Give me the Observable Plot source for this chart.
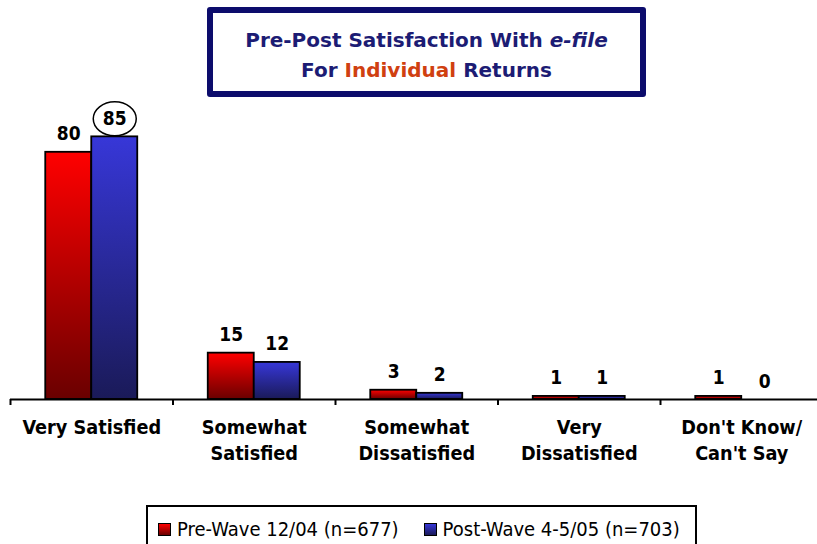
<!DOCTYPE html>
<html>
<head>
<meta charset="utf-8">
<script src="https://cdn.jsdelivr.net/npm/d3@7"></script>
<script src="https://cdn.jsdelivr.net/npm/@observablehq/plot@0.6"></script>
<style>
  html, body { margin: 0; padding: 0; background: #fff; }
  #wrap { position: relative; width: 817px; height: 544px; overflow: hidden; background: #fff;
    font-family: 'DejaVu Sans Condensed', 'DejaVu Sans', sans-serif; }
  #chart { position: absolute; left: 0; top: 0; }
  #title { position: absolute; left: 207px; top: 7px; width: 439px; height: 90px; box-sizing: border-box;
    border: 6px solid #0c0c6c; border-radius: 3px; text-align: center; font-weight: bold; font-size: 20px;
    font-family: 'DejaVu Sans', sans-serif;
    line-height: 30px; color: #1c1c74; padding-top: 12px; }
  #title .hl { color: #d04010; }
  #legend { position: absolute; left: 146px; top: 505px; width: 551px; height: 50px; box-sizing: border-box;
    border: 2px solid #000; font-size: 20px; line-height: 22px; padding-top: 11px; padding-left: 10px;
    display: flex; gap: 25px; color: #000; }
  #legend .sw { display: inline-block; width: 11px; height: 11px; border: 1px solid #000; margin-right: 6px; }
</style>
</head>
<body>
<div id="wrap">
  <div id="chart"></div>
  <div id="title">Pre-Post Satisfaction With <i>e-file</i><br>For <span class="hl">Individual</span> Returns</div>
  <div id="legend"></div>
</div>
<script>
const categories = ["Very Satisfied", "Somewhat Satisfied", "Somewhat Dissatisfied", "Very Dissatisfied", "Don't Know/ Can't Say"];
const tickLabels = ["Very Satisfied", "Somewhat\nSatisfied", "Somewhat\nDissatisfied", "Very\nDissatisfied", "Don't Know/\nCan't Say"];
const seriesNames = ["Pre-Wave 12/04 (n=677)", "Post-Wave 4-5/05 (n=703)"];
const preWave = [80, 15, 3, 1, 1];
const postWave = [85, 12, 2, 1, 0];

const gradients = {
  [seriesNames[0]]: {id: "gRed", top: "#ff0000", bottom: "#6a0000"},
  [seriesNames[1]]: {id: "gBlue", top: "#3737d8", bottom: "#1a1a58"}
};

const preRows = categories.map((c, i) => ({category: c, series: seriesNames[0], value: preWave[i]}));
const postRows = categories.map((c, i) => ({category: c, series: seriesNames[1], value: postWave[i]}));
const maxPost = d3.max(postRows, d => d.value);

const ellipse = {
  draw(ctx) {
    const rx = 21.5, ry = 17, k = 0.5523;
    ctx.moveTo(rx, 0);
    ctx.bezierCurveTo(rx, ry * k, rx * k, ry, 0, ry);
    ctx.bezierCurveTo(-rx * k, ry, -rx, ry * k, -rx, 0);
    ctx.bezierCurveTo(-rx, -ry * k, -rx * k, -ry, 0, -ry);
    ctx.bezierCurveTo(rx * k, -ry, rx, -ry * k, rx, 0);
    ctx.closePath();
  }
};

const defsMark = () => {
  const g = document.createElementNS("http://www.w3.org/2000/svg", "g");
  g.innerHTML = "<defs>" + Object.values(gradients).map(gr =>
    `<linearGradient id="${gr.id}" x1="0" y1="0" x2="0" y2="1"><stop offset="0" stop-color="${gr.top}"/><stop offset="1" stop-color="${gr.bottom}"/></linearGradient>`
  ).join("") + "</defs>";
  return g;
};

const labelFont = {fontWeight: "bold", fontSize: 19};

const chart = Plot.plot({
  width: 817,
  height: 500,
  marginTop: 90,
  marginBottom: 101,
  marginLeft: 10,
  marginRight: 0,
  style: {fontFamily: "'DejaVu Sans Condensed', 'DejaVu Sans', sans-serif", fontSize: "19px", color: "#000", background: "transparent", overflow: "visible"},
  x: {domain: categories, range: [10, 822.5], padding: 0, round: false, label: null},
  y: {domain: [0, 100], axis: null},
  marks: [
    defsMark,
    Plot.barY(preRows, {x: "category", y: "value", fill: "url(#gRed)", stroke: "#000", strokeWidth: 1.8, insetLeft: 35.25, insetRight: 81.25}),
    Plot.barY(postRows, {x: "category", y: "value", fill: "url(#gBlue)", stroke: "#000", strokeWidth: 1.8, insetLeft: 81.25, insetRight: 35.25}),
    Plot.ruleY([0], {stroke: "#000", strokeWidth: 2}),
    Plot.ruleX(categories, {x: d => d, y1: 0, y2: 0, dx: -81.25, insetBottom: -6, stroke: "#000", strokeWidth: 2}),
    Plot.text(preRows, {x: "category", y: "value", text: d => String(d.value), dx: -23, dy: -12, lineAnchor: "bottom", fill: "#000", ...labelFont}),
    Plot.text(postRows, {x: "category", y: "value", text: d => String(d.value), dx: 23, dy: -12, lineAnchor: "bottom", fill: "#000", ...labelFont}),
    Plot.dot(postRows.filter(d => d.value === maxPost), {x: "category", y: "value", dx: 23, dy: -18, symbol: ellipse, r: 17, fill: "none", stroke: "#000", strokeWidth: 1.5}),
    Plot.axisX({tickSize: 0, tickPadding: 16.5, tickFormat: d => tickLabels[categories.indexOf(d)], lineHeight: 1.32, fontWeight: "bold", fontSize: 19.7, fill: "#000", label: null})
  ]
});
document.getElementById("chart").appendChild(chart);

const legend = document.getElementById("legend");
for (const s of seriesNames) {
  const item = document.createElement("span");
  const sw = document.createElement("span");
  sw.className = "sw";
  sw.style.background = `linear-gradient(${gradients[s].top}, ${gradients[s].bottom})`;
  item.appendChild(sw);
  item.appendChild(document.createTextNode(s));
  legend.appendChild(item);
}
</script>
</body>
</html>
